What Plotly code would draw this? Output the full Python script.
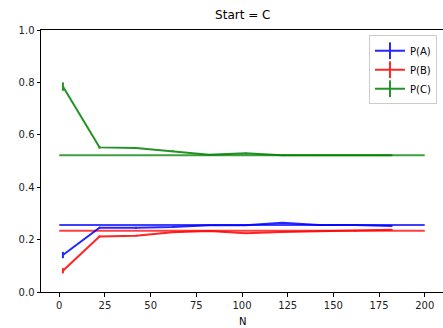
import plotly.graph_objects as go

N = [2, 22, 42, 62, 82, 102, 122, 142, 162, 182]
pA = [0.141, 0.245, 0.245, 0.248, 0.255, 0.255, 0.264, 0.256, 0.256, 0.252]
pB = [0.081, 0.212, 0.215, 0.228, 0.233, 0.224, 0.229, 0.232, 0.233, 0.238]
pC = [0.784, 0.552, 0.550, 0.538, 0.524, 0.530, 0.522, 0.522, 0.521, 0.522]
errA = [0.012, 0.004, 0.004, 0.003, 0.002, 0.002, 0.002, 0.002, 0.002, 0.002]
errB = [0.010, 0.004, 0.003, 0.003, 0.002, 0.002, 0.002, 0.002, 0.002, 0.002]
errC = [0.016, 0.005, 0.003, 0.003, 0.002, 0.002, 0.002, 0.002, 0.002, 0.002]
limit_x = [0, 200]
stationary = {"A": 0.256, "B": 0.234, "C": 0.522}
labels = ["P(A)", "P(B)", "P(C)"]
colors = ["#0000ff", "#ff0000", "#008000"]

fig = go.Figure()
for lab, key, col in zip(labels, ["A", "B", "C"], colors):
    fig.add_trace(go.Scatter(x=limit_x, y=[stationary[key]] * 2, mode="lines",
                             line=dict(color=col, width=2), opacity=0.75,
                             showlegend=False, hoverinfo="skip"))
for lab, ys, es, col in zip(labels, [pA, pB, pC], [errA, errB, errC], colors):
    fig.add_trace(go.Scatter(x=N, y=ys, mode="lines", name=lab, showlegend=False,
                             line=dict(color=col, width=2),
                             opacity=0.85,
                             error_y=dict(type="data", array=es, visible=True,
                                          color=col, thickness=2, width=0)))
# legend entries (line with vertical error-bar glyph)
for lab, col in zip(labels, colors):
    fig.add_trace(go.Scatter(x=[None], y=[None], mode="lines+markers", name=lab,
                             line=dict(color=col, width=2), opacity=0.85,
                             marker=dict(symbol="line-ns", size=12, color=col,
                                         line=dict(color=col, width=2))))

axis_common = dict(showline=True, linecolor="black", linewidth=1, mirror=True,
                   ticks="outside", ticklen=3.5, tickcolor="black", showgrid=False,
                   zeroline=False, tickfont=dict(family="DejaVu Sans", size=10, color="#222"))
fig.update_layout(
    width=443, height=328,
    margin=dict(l=41, r=0, t=30, b=36),
    paper_bgcolor="white", plot_bgcolor="white",
    title=dict(text="Start = C", x=0.548, xanchor="center", y=0.955, yanchor="middle",
               font=dict(family="DejaVu Sans", size=12, color="black")),
    xaxis=dict(range=[-10, 210], tickvals=[0, 25, 50, 75, 100, 125, 150, 175, 200],
               **axis_common),
    yaxis=dict(range=[0, 1], tickvals=[0, 0.2, 0.4, 0.6, 0.8, 1.0], tickformat=".1f",
               **axis_common),
    legend=dict(x=0.985, y=0.98, xanchor="right", yanchor="top",
                bgcolor="rgba(255,255,255,0.8)", bordercolor="#cccccc", borderwidth=1,
                font=dict(family="DejaVu Sans", size=10, color="black"),
                tracegroupgap=0),
    showlegend=True,
    annotations=[dict(text="N", xref="paper", yref="paper", x=0.5, y=-0.085,
                      xanchor="center", yanchor="top", showarrow=False,
                      font=dict(family="DejaVu Sans", size=10, color="black"))],
)
fig.write_html("out.html", config={"displayModeBar": False},
               post_script="document.body.style.margin='0';")
